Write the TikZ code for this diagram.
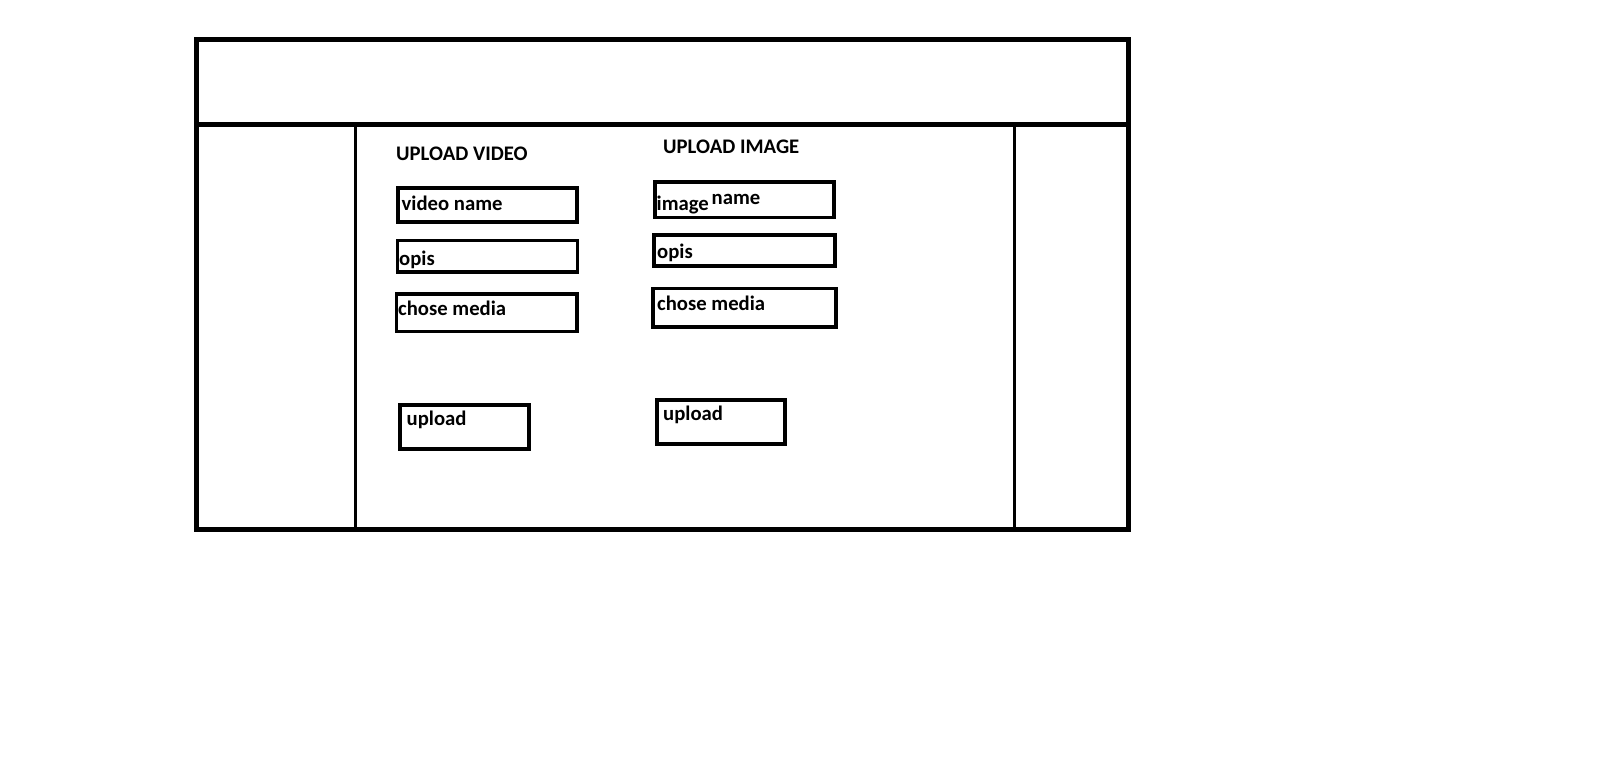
\documentclass[tikz,border=0pt]{standalone}
\usepackage{fontspec}
\setmainfont{Carlito}
\tikzset{
  x=1pt, y=-1pt,
  frame/.style={line width=5pt},
  divider/.style={line width=3pt},
  field/.style={draw, line width=3.2pt, inner sep=0pt, outer sep=0pt, anchor=north west},
  txt/.style={inner sep=0pt, anchor=base west, font=\bfseries\fontsize{20.7}{23}\selectfont},
}
\begin{document}
\begin{tikzpicture}
\useasboundingbox (0,0) rectangle (1598,782);
% page frame
\draw[frame] (196,39) rectangle (1128,529.5);
\draw[frame] (196,124) -- (1128,124);
\draw[divider] (355,124) -- (355,529.5);
\draw[divider] (1014.5,124) -- (1014.5,529.5);

% video column
\node[txt] (tvideo) at (396,160) {UPLOAD VIDEO};
\node[field, minimum width=179pt, minimum height=34pt] (vname) at (398,188) {};
\node[field, minimum width=180pt, minimum height=31.5pt] (vopis) at (397.5,240.5) {};
\node[field, minimum width=180.5pt, minimum height=37.5pt] (vmedia) at (396.5,294) {};
\node[field, minimum width=129pt, minimum height=44pt] (vupload) at (400,405) {};
\node[txt] (tvname) at ([shift={(3.5,22)}]vname.north west) {video name};
\node[txt] (tvopis) at ([shift={(1.5,25)}]vopis.north west) {opis};
\node[txt] (tvmedia) at ([shift={(1.5,21)}]vmedia.north west) {chose media};
\node[txt] (tvupload) at ([shift={(6.5,20)}]vupload.north west) {upload};

% image column
\node[txt] (timage) at (663,153.3) {UPLOAD IMAGE};
\node[field, minimum width=179pt, minimum height=35.5pt] (iname) at (655,182) {};
\node[field, minimum width=181pt, minimum height=31pt] (iopis) at (654,235) {};
\node[field, minimum width=183pt, minimum height=38.5pt] (imedia) at (653,288.5) {};
\node[field, minimum width=128pt, minimum height=44pt] (iupload) at (657,400) {};
\node[txt] (tiname) at ([shift={(1.5,28.5)}]iname.north west) {image};
\node[txt] (tinamen) at ([shift={(56.5,22)}]iname.north west) {name};
\node[txt] (tiopis) at ([shift={(3,23)}]iopis.north west) {opis};
\node[txt] (timedia) at ([shift={(4,21.5)}]imedia.north west) {chose media};
\node[txt] (tiupload) at ([shift={(6,20)}]iupload.north west) {upload};
\end{tikzpicture}
\end{document}
